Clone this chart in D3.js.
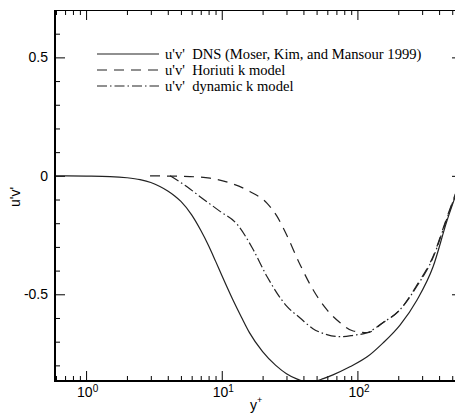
<!DOCTYPE html>
<html>
<head>
<meta charset="utf-8">
<script src="https://cdn.jsdelivr.net/npm/d3@7"></script>
</head>
<body style="margin:0;background:#fff">
<div id="chart-area"></div>
<script>
// Data
let dnsYPlus = [0.59, 1, 1.5, 2, 2.5, 3, 3.5, 4, 4.5, 5, 6, 7, 8, 9, 10, 12, 14, 16, 20, 25, 30, 36, 42, 48, 56, 66, 88, 118, 154, 206, 275, 361, 457, 524, 590];
let dnsUV = [0, -0.001, -0.003, -0.008, -0.016, -0.028, -0.045, -0.064, -0.085, -0.108, -0.165, -0.23, -0.295, -0.36, -0.42, -0.52, -0.598, -0.662, -0.742, -0.8, -0.835, -0.858, -0.87, -0.868, -0.856, -0.84, -0.806, -0.764, -0.706, -0.63, -0.524, -0.384, -0.19, -0.09, 0];

let horiutiYPlus = [2.96, 4, 5.83, 8.2, 11.5, 16.2, 21.6, 25.5, 30.1, 37.8, 47, 59.5, 74.6, 93, 118, 154, 206, 275, 361, 457, 590];
let horiutiUV = [0, -0.001, -0.003, -0.01, -0.03, -0.067, -0.116, -0.17, -0.25, -0.375, -0.48, -0.565, -0.62, -0.655, -0.662, -0.62, -0.565, -0.46, -0.34, -0.175, 0];

let dynamicYPlus = [4.16, 5.55, 6.92, 9.71, 13, 17, 21.6, 30.1, 37.8, 47, 59.5, 74.6, 93, 118, 154, 206, 275, 361, 457, 590];
let dynamicUV = [0, -0.046, -0.088, -0.15, -0.205, -0.31, -0.426, -0.55, -0.6, -0.645, -0.67, -0.679, -0.673, -0.662, -0.62, -0.565, -0.465, -0.345, -0.18, 0];

let legendLabels = ["u'v'  DNS (Moser, Kim, and Mansour 1999)", "u'v'  Horiuti k model", "u'v'  dynamic k model"];

let xMajor = [1, 10, 100];
let xMinor = [0.6, 0.7, 0.8, 0.9, 2, 3, 4, 5, 6, 7, 8, 9, 20, 30, 40, 50, 60, 70, 80, 90, 200, 300, 400, 500];
let xLabelExp = ["0", "1", "2"];
let yMajor = [-0.5, 0, 0.5];
let yMinor = [-0.8, -0.7, -0.6, -0.4, -0.3, -0.2, -0.1, 0.1, 0.2, 0.3, 0.4, 0.6, 0.7];
let yLabels = ["-0.5", "0", "0.5"];

// SVG drawing area
let plot = {left: 55, right: 462, top: 10, bottom: 381};
let sansFont = "'Liberation Sans', Arial, sans-serif";
let serifFont = "'Liberation Serif', 'Times New Roman', serif";

let svg = d3.select("#chart-area").append("svg")
    .attr("width", 455)
    .attr("height", 416);

// Scales
let xScale = d3.scaleLog()
    .domain([0.59, 590])
    .range([plot.left, plot.right]);

let yScale = d3.scaleLinear()
    .domain([-0.866, 0.7])
    .range([plot.bottom, plot.top]);

// AXIS - plain d3 axes, ticks turned inward
svg.append("g")
    .attr("transform", "translate(0," + plot.bottom + ")")
    .call(d3.axisBottom(xScale).tickValues(xMinor).tickSize(-5).tickFormat(() => ""));
svg.append("g")
    .attr("transform", "translate(0," + plot.bottom + ")")
    .call(d3.axisBottom(xScale).tickValues(xMajor).tickSize(-10).tickFormat(() => ""));
svg.append("g")
    .attr("transform", "translate(0," + plot.top + ")")
    .call(d3.axisTop(xScale).tickValues(xMinor).tickSize(-5).tickFormat(() => ""));
svg.append("g")
    .attr("transform", "translate(0," + plot.top + ")")
    .call(d3.axisTop(xScale).tickValues(xMajor).tickSize(-10).tickFormat(() => ""));
svg.append("g")
    .attr("transform", "translate(" + plot.left + ",0)")
    .call(d3.axisLeft(yScale).tickValues(yMinor).tickSize(-5).tickFormat(() => ""));
svg.append("g")
    .attr("transform", "translate(" + plot.left + ",0)")
    .call(d3.axisLeft(yScale).tickValues(yMajor).tickSize(-10).tickFormat(() => ""));
svg.append("g")
    .attr("transform", "translate(" + plot.right + ",0)")
    .call(d3.axisRight(yScale).tickValues(yMinor).tickSize(-5).tickFormat(() => ""));
svg.append("g")
    .attr("transform", "translate(" + plot.right + ",0)")
    .call(d3.axisRight(yScale).tickValues(yMajor).tickSize(-10).tickFormat(() => ""));

// Curves
svg.append("defs").append("clipPath")
    .attr("id", "plot-clip")
  .append("rect")
    .attr("x", plot.left)
    .attr("y", plot.top)
    .attr("width", plot.right - plot.left)
    .attr("height", plot.bottom - plot.top);

let lineGen = d3.line()
    .x(d => xScale(d[0]))
    .y(d => yScale(d[1]))
    .curve(d3.curveMonotoneX);

let series = [
    {xs: dnsYPlus, ys: dnsUV, dash: null},
    {xs: horiutiYPlus, ys: horiutiUV, dash: "10,7"},
    {xs: dynamicYPlus, ys: dynamicUV, dash: "10,3,1.5,3"}
];

svg.append("g")
    .attr("clip-path", "url(#plot-clip)")
  .selectAll("path")
  .data(series)
  .enter()
  .append("path")
    .attr("d", s => lineGen(s.xs.map((v, i) => [v, s.ys[i]])))
    .attr("fill", "none")
    .attr("stroke", "#222")
    .attr("stroke-width", 1.2)
    .attr("stroke-dasharray", s => s.dash);

// thicker frame lines
svg.append("path")
    .attr("d", "M" + plot.left + "," + plot.top + "V" + plot.bottom + "H" + plot.right)
    .attr("fill", "none")
    .attr("stroke", "#000")
    .attr("stroke-width", 2);

// tick labels
xMajor.forEach((v, i) => {
    let t = svg.append("text")
        .attr("x", xScale(v) - 9)
        .attr("y", 397)
        .attr("font-family", sansFont)
        .attr("font-size", 14);
    t.append("tspan").text("10");
    t.append("tspan").attr("dy", -5).attr("font-size", 10).text(xLabelExp[i]);
});

yMajor.forEach((v, i) => {
    svg.append("text")
        .attr("x", 48)
        .attr("y", yScale(v) + 5)
        .attr("text-anchor", "end")
        .attr("font-family", sansFont)
        .attr("font-size", 14)
        .text(yLabels[i]);
});

// axis titles
let xt = svg.append("text")
    .attr("x", 250)
    .attr("y", 410)
    .attr("font-family", sansFont)
    .attr("font-size", 14);
xt.append("tspan").text("y");
xt.append("tspan").attr("dy", -7).attr("font-size", 9).text("+");

svg.append("text")
    .attr("transform", "translate(20,197) rotate(-90)")
    .attr("text-anchor", "middle")
    .attr("font-family", sansFont)
    .attr("font-size", 14)
    .text("u'v'");

// legend
legendLabels.forEach((label, i) => {
    let ly = 54 + i * 16;
    svg.append("line")
        .attr("x1", 97).attr("x2", 159)
        .attr("y1", ly).attr("y2", ly)
        .attr("stroke", "#222")
        .attr("stroke-width", 1.2)
        .attr("stroke-dasharray", series[i].dash);
    svg.append("text")
        .attr("x", 165)
        .attr("y", ly + 5)
        .attr("font-family", serifFont)
        .attr("font-size", 14.6)
        .style("white-space", "pre")
        .text(label);
});
</script>
</body>
</html>
